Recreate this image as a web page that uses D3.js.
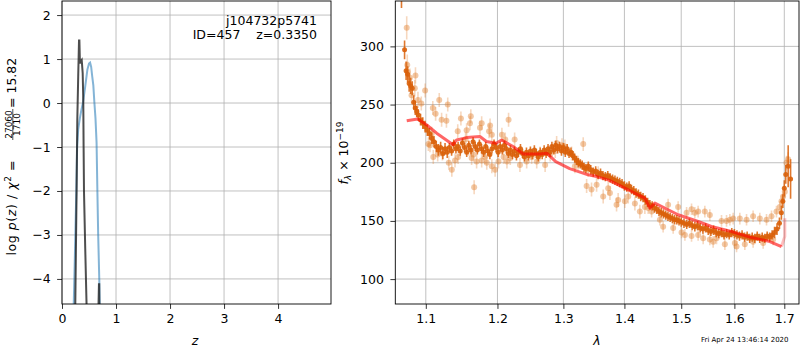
<!DOCTYPE html>
<html>
<head>
<meta charset="utf-8">
<script src="https://cdn.jsdelivr.net/npm/d3@7"></script>
<style>
  body { margin: 0; background: #fff; }
  svg text { font-family: "DejaVu Sans", sans-serif; }
</style>
</head>
<body>
<svg id="fig" width="800" height="350"></svg>
<script>

// ---- left panel: log p(z)
const zTicks = [0, 1, 2, 3, 4];
const logpTicks = [-4, -3, -2, -1, 0, 1, 2];

const blueZ   = [0.215, 0.24, 0.265, 0.28, 0.30, 0.33, 0.36, 0.39, 0.43, 0.47, 0.50, 0.52, 0.54, 0.56, 0.58, 0.60, 0.62, 0.64, 0.655, 0.67, 0.69, 0.70];
const blueLog = [-4.7, -3.4, -2.0, -1.0, -0.6, -0.35, -0.15, 0.02, 0.38, 0.76, 0.9, 0.92, 0.82, 0.6, 0.4, 0.0, -0.35, -0.9, -2.0, -3.0, -4.0, -4.7];

const blackZ   = [0.245, 0.27, 0.283, 0.30, 0.315, 0.322, 0.332, 0.346, 0.365, 0.383, 0.394, 0.40, 0.407, 0.43, 0.457];
const blackLog = [-4.7, -2.0, -0.4, 0.6, 1.42, 1.42, 0.9, 0.95, 0.98, 0.68, 0.07, -1.0, -2.0, -3.3, -4.7];
const spikeZ   = [0.674, 0.684, 0.689, 0.692];
const spikeLog = [-4.7, -4.12, -4.12, -4.7];

const objName = "j104732p5741";
const objInfo = "ID=457    z=0.3350";
const stamp = "Fri Apr 24 13:46:14 2020";

// ---- right panel: spectrum
const lamTicks = [1.1, 1.2, 1.3, 1.4, 1.5, 1.6, 1.7];
const fluxTicks = [100, 150, 200, 250, 300];

// [lambda, flux, err]
const darkPts = [
  [1.068,345,12],[1.072,297,8],[1.074,279,8],[1.076,276,7],[1.078,268,7],[1.080,266,7],[1.082,264,6],[1.084,252,6],
  [1.086,247,6],[1.088,244,5],[1.090,241,5],[1.093,237,5],[1.096,234,5],[1.099,231,5],[1.102,228,5],[1.105,225,5],
  [1.108,221,5],[1.111,218,5],[1.114,214,5],[1.117,211,5],[1.120,213,5],[1.123,208,5],[1.126,212,5],[1.129,209,5],
  [1.132,213,4],[1.135,210,4],[1.138,216,4],[1.141,212,4],[1.144,214,4],[1.147,210,4],[1.150,217,4],[1.153,213,4],
  [1.156,209,4],[1.159,215,4],[1.162,211,4],[1.165,218,4],[1.168,214,4],[1.171,211,4],[1.174,216,4],[1.177,212,4],
  [1.180,209,4],[1.183,214,4],[1.186,210,4],[1.189,207,4],[1.192,212,4],[1.195,216,4],[1.198,213,4],[1.201,209,4],
  [1.204,214,4],[1.207,211,4],[1.210,215,4],[1.213,212,4],[1.216,208,4],[1.219,211,4],[1.222,207,4],[1.225,210,4],
  [1.228,206,4],[1.231,209,4],[1.234,212,4],[1.237,208,4],[1.240,205,4],[1.243,209,4],[1.246,206,4],[1.249,210,4],
  [1.252,207,4],[1.255,211,4],[1.258,208,4],[1.261,205,4],[1.264,209,4],[1.267,207,4],[1.270,211,4],[1.273,208,4],
  [1.276,212,4],[1.279,209,4],[1.282,214,4],[1.285,211,4],[1.288,215,4],[1.291,212,4],[1.294,214,4],[1.297,210,4],
  [1.300,213,4],[1.303,209,4],[1.306,212,4],[1.309,208,4],[1.312,209,4],[1.315,206,4],[1.318,204,4],[1.321,202,4],
  [1.324,200,4],[1.327,199,4],[1.330,198,4],[1.333,196,4],[1.336,195,4],[1.340,197,4],[1.344,194,4],[1.348,192,4],
  [1.352,193,4],[1.356,190,4],[1.360,191,4],[1.364,189,4],[1.368,188,4],[1.372,189,4],[1.376,187,4],[1.380,186,4],
  [1.384,185,4],[1.388,184,4],[1.392,183,4],[1.396,182,4],[1.400,180,4],[1.404,179,4],[1.408,180,4],[1.412,177,4],
  [1.416,176,4],[1.420,174,4],[1.424,173,4],[1.428,171,4],[1.432,170,4],[1.436,168,4],[1.440,166,4],[1.444,164,4],
  [1.448,163,4],[1.452,161,4],[1.456,160,4],[1.460,158,4],[1.464,157,4],[1.468,156,4],[1.472,155,4],[1.476,154,4],
  [1.480,153,4],[1.484,152,4],[1.488,151,4],[1.492,151,4],[1.496,150,4],[1.500,149,4],[1.505,148,4],[1.510,147,4],
  [1.515,148,4],[1.520,146,4],[1.525,145,4],[1.530,146,4],[1.535,144,4],[1.540,143,4],[1.545,144,4],[1.550,142,4],
  [1.555,141,4],[1.560,142,4],[1.565,140,4],[1.570,139,4],[1.575,140,4],[1.580,138,4],[1.585,139,4],[1.590,138,4],
  [1.595,140,4],[1.600,139,4],[1.605,138,4],[1.610,137,4],[1.615,138,4],[1.620,136,4],[1.625,137,4],[1.630,135,4],
  [1.635,136,4],[1.640,135,4],[1.645,137,4],[1.650,135,4],[1.655,136,4],[1.660,135,4],[1.665,137,4],[1.670,136,4],
  [1.675,138,4],[1.680,140,5],[1.685,143,5],[1.690,148,5],[1.694,157,6],[1.697,167,6],[1.700,178,7],[1.703,190,8],
  [1.708,197,18],[1.713,186,17]
];

const lightPts = [
  [1.0748,316,10],[1.0755,284,9],[1.0760,278,9],[1.0790,273,8],[1.0811,258,8],[1.0854,264,7],[1.0863,275,7],[1.0896,254,7],
  [1.0940,251,6],[1.0991,262,6],[1.1034,216,6],[1.1056,215,6],[1.1079,225,6],[1.1094,247,6],[1.1100,205,6],[1.1132,242,6],
  [1.1160,207,6],[1.1181,254,6],[1.1213,237,6],[1.1223,208,6],[1.1279,236,6],[1.1297,250,6],[1.1311,200,6],[1.1353,194,6],
  [1.1397,202,6],[1.1435,227,6],[1.1440,205,6],[1.1479,238,6],[1.1544,220,6],[1.1559,228,6],[1.1588,212,6],[1.1606,234,6],
  [1.1618,240,6],[1.1629,204,6],[1.1665,179,6],[1.1654,207,6],[1.1700,201,6],[1.1748,230,6],[1.1772,234,6],[1.1772,202,6],
  [1.1820,205,6],[1.1845,200,6],[1.1878,227,6],[1.1893,232,6],[1.1918,224,6],[1.1918,197,6],[1.1966,194,6],[1.2015,201,6],
  [1.2065,224,6],[1.2089,205,6],[1.2114,220,6],[1.2139,201,6],[1.2163,237,6],[1.2188,204,6],[1.2253,220,6],[1.2332,198,6],
  [1.2433,201,6],[1.2509,205,6],[1.2586,201,6],[1.2637,208,6],[1.2715,198,6],[1.2793,207,6],[1.2872,210,6],[1.2894,217,6],
  [1.2978,215,6],[1.3024,214,6],[1.3130,208,6],[1.3183,197,6],[1.3236,200,6],[1.3317,216,6],[1.3372,180,6],[1.3397,194,6],
  [1.3452,177,6],[1.3535,181,6],[1.3562,191,6],[1.3644,171,6],[1.3727,178,6],[1.3756,174,6],[1.3867,164,6],[1.3894,168,6],
  [1.4008,167,6],[1.4065,171,6],[1.4179,165,6],[1.4265,158,6],[1.4352,162,6],[1.4410,161,5],[1.4470,158,5],[1.4616,151,5],
  [1.4674,145,5],[1.4763,164,5],[1.4854,144,5],[1.4944,162,5],[1.5006,140,5],[1.5067,138,5],[1.5098,157,5],[1.5189,160,5],
  [1.5189,137,5],[1.5250,157,5],[1.5311,158,5],[1.5311,138,5],[1.5405,135,5],[1.5436,158,5],[1.5530,155,5],[1.5530,134,5],
  [1.5593,132,5],[1.5657,135,5],[1.5752,150,5],[1.5816,130,5],[1.5848,150,5],[1.5912,151,5],[1.5976,152,5],[1.6010,131,5],
  [1.6042,128,5],[1.6106,152,5],[1.6204,130,5],[1.6238,151,5],[1.6368,154,5],[1.6368,132,5],[1.6502,152,5],[1.6569,131,5],
  [1.6637,151,5],[1.6738,154,5],[1.6771,134,5],[1.6839,158,5],[1.6907,162,5],[1.6942,167,5],[1.6975,171,5],[1.7010,175,5],
  [1.7045,200,6],[1.7079,203,6]
];

const modelLam  = [1.0748, 1.0892, 1.1013, 1.1146, 1.137, 1.142, 1.156, 1.1747, 1.184, 1.198, 1.206, 1.223, 1.238, 1.2635, 1.274, 1.288, 1.31, 1.3397, 1.3535, 1.3727, 1.4008, 1.4236, 1.4353, 1.4439, 1.4527, 1.4944, 1.5311, 1.556, 1.5944, 1.6106, 1.6304, 1.6703, 1.6942];
const modelFlux = [236, 237.6, 232.5, 225.4, 215.5, 219.6, 221.6, 222.5, 218.2, 216.8, 219.6, 213.9, 207.6, 207.6, 208.2, 201, 195, 189.6, 188.1, 185.3, 178.2, 172.4, 169.6, 161.0, 165.3, 155.3, 149.5, 145.2, 140.9, 138.7, 136.1, 132.3, 128.0];
const tailLam  = [1.6942, 1.701, 1.701];
const tailFlux = [128.0, 136.6, 152.4];

const svg = d3.select("#fig");
const defs = svg.append("defs");

const boxL = {x0: 62, x1: 331, y0: 1, y1: 304};
const boxR = {x0: 395.3, x1: 799, y0: 1, y1: 304};

const zx = d3.scaleLinear().domain([0, 4.98]).range([boxL.x0, boxL.x1]);
const zy = d3.scaleLinear().domain([-4.57, 2.32]).range([boxL.y1, boxL.y0]);
const lx = d3.scaleLog().domain([1.06, 1.7306]).range([boxR.x0, boxR.x1]);
const fy = d3.scaleLinear().domain([78.6, 339]).range([boxR.y1, boxR.y0]);

function panel(box, x, y, xTicks, yTicks, xFmt, yFmt, id) {
  const g = svg.append("g");
  g.selectAll(".gx").data(xTicks).join("line")
    .attr("x1", d => x(d)).attr("x2", d => x(d))
    .attr("y1", box.y0).attr("y2", box.y1)
    .attr("stroke", "#b0b0b0").attr("stroke-width", 0.8);
  g.selectAll(".gy").data(yTicks).join("line")
    .attr("y1", d => y(d)).attr("y2", d => y(d))
    .attr("x1", box.x0).attr("x2", box.x1)
    .attr("stroke", "#b0b0b0").attr("stroke-width", 0.8);

  const xa = g.append("g").attr("transform", `translate(0,${box.y1})`)
    .call(d3.axisBottom(x).tickValues(xTicks).tickFormat(xFmt).tickSize(4.9).tickPadding(5.5).tickSizeOuter(0));
  const ya = g.append("g").attr("transform", `translate(${box.x0},0)`)
    .call(d3.axisLeft(y).tickValues(yTicks).tickFormat(yFmt).tickSize(4.9).tickPadding(6.5).tickSizeOuter(0));
  [xa, ya].forEach(a => {
    a.select(".domain").remove();
    a.attr("font-family", null).attr("font-size", null);
    a.selectAll("text").style("font-size", "12.5px").attr("fill", "#000");
    a.selectAll("line").attr("stroke", "#000").attr("stroke-width", 0.8);
  });

  defs.append("clipPath").attr("id", id).append("rect")
    .attr("x", box.x0).attr("y", box.y0)
    .attr("width", box.x1 - box.x0).attr("height", box.y1 - box.y0);
  return svg.append("g").attr("clip-path", `url(#${id})`);
}

function frame(box) {
  svg.append("rect")
    .attr("x", box.x0).attr("y", box.y0)
    .attr("width", box.x1 - box.x0).attr("height", box.y1 - box.y0)
    .attr("fill", "none").attr("stroke", "#000").attr("stroke-width", 0.9);
}

// left panel
const pl = panel(boxL, zx, zy, zTicks, logpTicks, d3.format("d"), d3.format("d"), "clipL");
const zline = d3.line().x(d => zx(d[0])).y(d => zy(d[1]));

pl.append("path")
  .attr("d", zline(d3.zip(blueZ, blueLog)))
  .attr("fill", "none").attr("stroke", "#1f77b4").attr("stroke-opacity", 0.55).attr("stroke-width", 2);
pl.append("path")
  .attr("d", zline(d3.zip(blackZ, blackLog)))
  .attr("fill", "none").attr("stroke", "#222").attr("stroke-opacity", 0.8).attr("stroke-width", 2);
pl.append("path")
  .attr("d", zline(d3.zip(spikeZ, spikeLog)))
  .attr("fill", "none").attr("stroke", "#222").attr("stroke-opacity", 0.8).attr("stroke-width", 2);

frame(boxL);

svg.append("text").attr("x", 317).attr("y", 25).attr("text-anchor", "end")
  .style("font-size", "12.5px").text(objName);
svg.append("text").attr("x", 317).attr("y", 38.5).attr("text-anchor", "end")
  .style("font-size", "12.5px").style("white-space", "pre").text(objInfo);

svg.append("text").attr("x", 195).attr("y", 345).attr("text-anchor", "middle")
  .style("font-size", "12.5px").style("font-style", "italic").text("z");

// rotated ylabel with the fraction
const yl = svg.append("g").attr("transform", "rotate(-90)");
const t1 = yl.append("text").attr("x", -255.5).attr("y", 16)
  .attr("textLength", 95).attr("lengthAdjust", "spacing")
  .style("font-size", "12.5px").style("white-space", "pre");
t1.append("tspan").text("log ");
t1.append("tspan").style("font-style", "italic").text("p");
t1.append("tspan").text("(");
t1.append("tspan").style("font-style", "italic").text("z");
t1.append("tspan").text(") / ");
t1.append("tspan").style("font-style", "italic").text("χ");
t1.append("tspan").attr("dy", -5).style("font-size", "9px").text("2");
t1.append("tspan").attr("dy", 5).text(" =");
yl.append("text").attr("x", -124.5).attr("y", 11.6).attr("text-anchor", "middle")
  .style("font-size", "9px").text("27060");
yl.append("line").attr("x1", -140).attr("x2", -109).attr("y1", 12.8).attr("y2", 12.8)
  .attr("stroke", "#000").attr("stroke-width", 0.7);
yl.append("text").attr("x", -124.5).attr("y", 19.8).attr("text-anchor", "middle")
  .style("font-size", "9px").text("1710");
yl.append("text").attr("x", -108).attr("y", 16).attr("text-anchor", "start")
  .style("font-size", "12.5px").style("white-space", "pre").text("= 15.82");

// right panel
const pr = panel(boxR, lx, fy, lamTicks, fluxTicks, d3.format(".1f"), d3.format("d"), "clipR");

function errPoints(pts, col, mOp, eOp, r) {
  const g = pr.append("g");
  g.selectAll("line").data(pts).join("line")
    .attr("x1", d => lx(d[0])).attr("x2", d => lx(d[0]))
    .attr("y1", d => fy(d[1] - d[2])).attr("y2", d => fy(d[1] + d[2]))
    .attr("stroke", col).attr("stroke-opacity", eOp).attr("stroke-width", 1.6);
  g.selectAll("circle").data(pts).join("circle")
    .attr("cx", d => lx(d[0])).attr("cy", d => fy(d[1])).attr("r", r)
    .attr("fill", col).attr("fill-opacity", mOp);
}
errPoints(lightPts, "#e07b28", 0.42, 0.3, 3);
errPoints(darkPts, "#d9600a", 0.9, 0.85, 2.5);

const sline = d3.line().x(d => lx(d[0])).y(d => fy(d[1]));
pr.append("path").attr("d", sline(d3.zip(modelLam, modelFlux)))
  .attr("fill", "none").attr("stroke", "#ff0000").attr("stroke-opacity", 0.6)
  .attr("stroke-width", 3).attr("stroke-linejoin", "round");
pr.append("path").attr("d", sline(d3.zip(tailLam, tailFlux)))
  .attr("fill", "none").attr("stroke", "#ff0000").attr("stroke-opacity", 0.25)
  .attr("stroke-width", 3);

frame(boxR);

svg.append("text").attr("x", 597).attr("y", 345).attr("text-anchor", "middle")
  .style("font-size", "12.5px").style("font-style", "italic").text("λ");

const yr = svg.append("text").attr("transform", "rotate(-90)")
  .attr("x", -153).attr("y", 348).attr("text-anchor", "middle")
  .style("font-size", "12.5px").style("white-space", "pre");
yr.append("tspan").style("font-style", "italic").text("f");
yr.append("tspan").attr("dy", 3).style("font-size", "9px").style("font-style", "italic").text("λ");
yr.append("tspan").attr("dy", -3).text(" × 10");
yr.append("tspan").attr("dy", -5).style("font-size", "9px").text("−19");

svg.append("text").attr("x", 701).attr("y", 342)
  .style("font-size", "7px").text(stamp);

</script>
</body>
</html>
